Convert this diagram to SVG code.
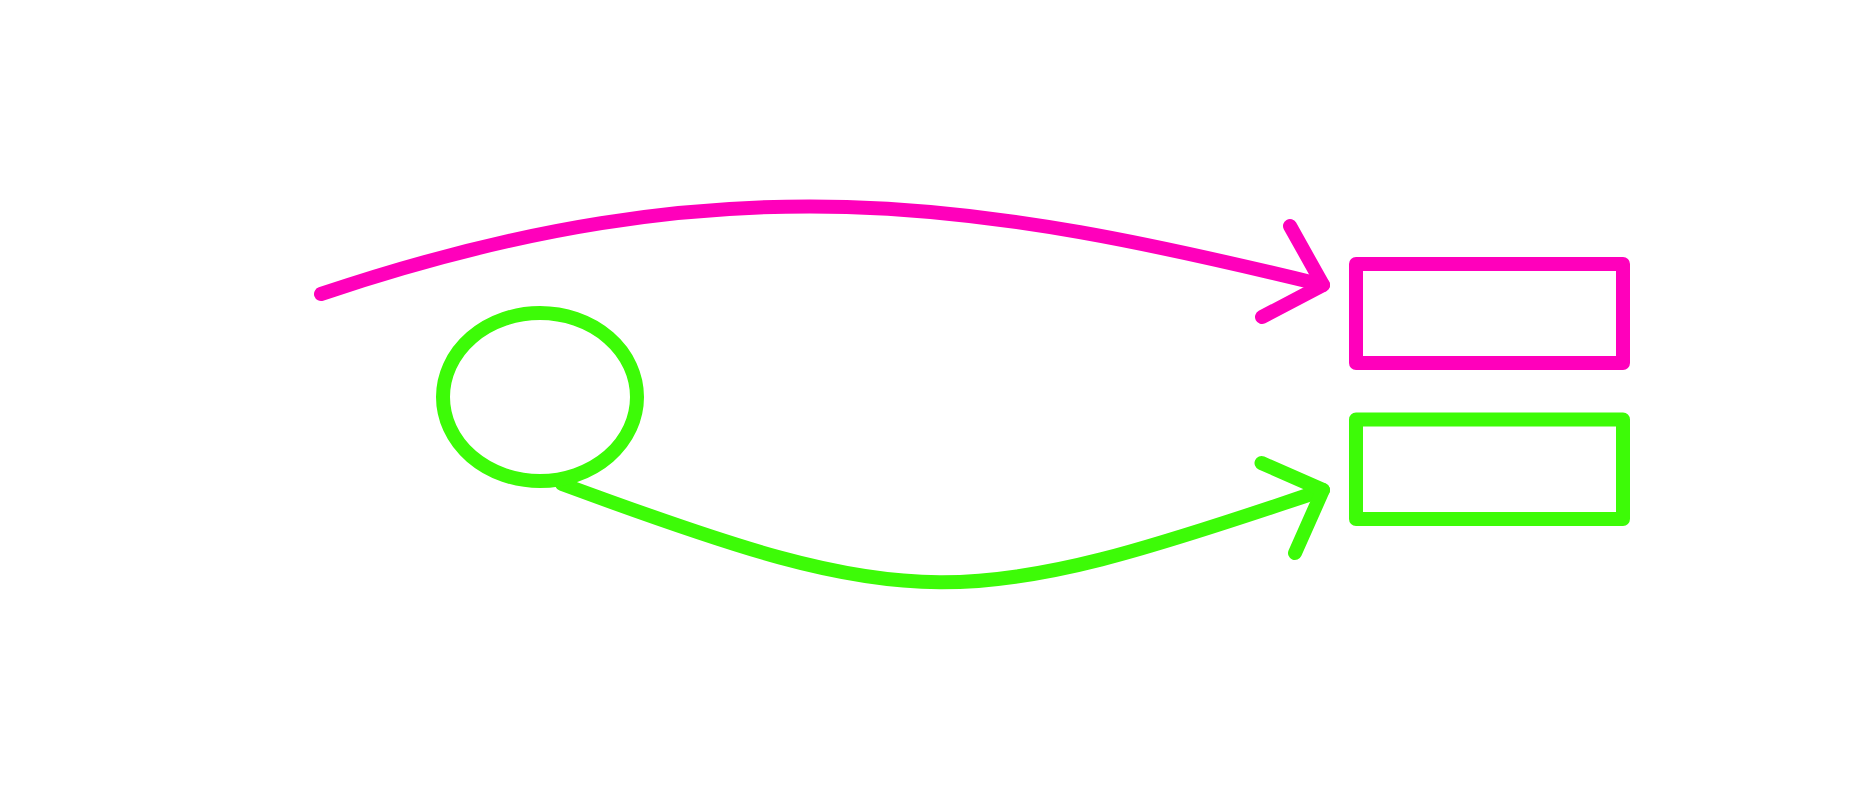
<svg xmlns="http://www.w3.org/2000/svg" width="1875" height="792" viewBox="0 0 1875 792">
<style>
.s{fill:none;stroke-width:14;stroke-linecap:round;stroke-linejoin:round}
.m{stroke:#ff00bb}
.g{stroke:#3dfb07}
</style>
<rect width="1875" height="792" fill="#ffffff"/>
<g id="connectors">
<path class="s m" d="M321,294 C728,157 982,202 1323,285"/>
<path class="s m" d="M1290,226 L1323,285 L1262,317"/>
<path class="s g" d="M562,484 C917,615 961,613 1323,490"/>
<path class="s g" d="M1261.5,463 L1323,490 L1295,553"/>
</g>
<g id="node-ellipse">
<ellipse class="s g" cx="540" cy="397" rx="97" ry="84"/>
</g>
<g id="node-rect-magenta">
<rect class="s m" x="1356" y="264" width="267" height="99"/>
</g>
<g id="node-rect-green">
<rect class="s g" x="1356" y="419.5" width="267" height="99.5"/>
</g>
</svg>
